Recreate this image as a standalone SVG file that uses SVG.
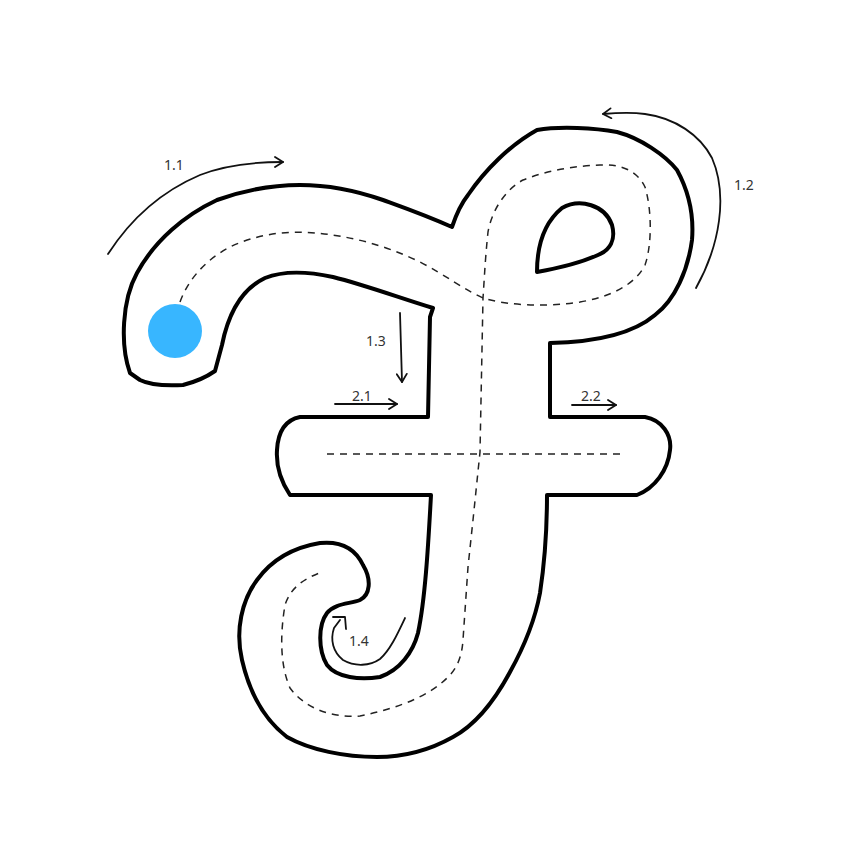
<svg xmlns="http://www.w3.org/2000/svg" width="864" height="864" viewBox="0 0 864 864">
<defs>
<style>
.outline{fill:#fff;stroke:#000;stroke-width:4;stroke-linejoin:round;stroke-linecap:round}
.dash{fill:none;stroke:#222;stroke-width:1.5;stroke-dasharray:7 6}
.arr{fill:none;stroke:#111;stroke-width:1.8;stroke-linecap:round;stroke-linejoin:round}
.lbl{font-family:"Noto Sans","Liberation Sans",sans-serif;font-size:14px;fill:#333}
</style>
<marker id="ah" viewBox="0 0 12 12" refX="10" refY="6" markerWidth="12" markerHeight="12" markerUnits="userSpaceOnUse" orient="auto">
<path d="M2,1 L10,6 L2,11" fill="none" stroke="#111" stroke-width="1.8" stroke-linecap="round" stroke-linejoin="round"/>
</marker>
</defs>
<rect width="864" height="864" fill="#fff"/>
<g id="letter">
<path class="outline" d="M130,373 C120,345 122,300 137,273 C155,240 185,215 217,200 C245,190 275,185 300,185 C330,185 360,192 383,200 C405,208 425,215 452,227 C456,215 460,205 468,195 C485,170 510,145 537,130 C560,126 595,128 617,132 C640,138 665,155 677,170 C688,190 694,215 692,240 C688,270 675,300 655,315 C635,332 600,342 550,343 L550,417 L645,417 C662,420 672,435 670,450 C668,470 655,488 637,495 L547,495 C547,520 545,560 540,593 C535,620 525,645 510,672 C495,700 475,725 453,737 C430,750 405,757 377,757 C345,757 310,750 287,737 C265,720 250,695 242,660 C235,630 242,600 257,580 C270,562 290,548 320,543 C340,541 355,548 363,565 C372,580 370,595 360,600 C350,604 335,603 327,613 C318,625 318,650 327,665 C337,678 360,680 380,677 C400,670 413,652 418,633 C425,600 428,550 431,495 L290,495 C280,480 276,465 277,450 C278,432 285,420 300,417 L428,417 L430,317 L433,308 C400,298 365,285 333,277 C310,272 285,270 265,278 C240,290 228,315 222,345 L215,371 C205,378 195,382 183,385 C165,386 150,385 140,380 Z"/>
<path class="outline" d="M537,272 C537,245 545,222 562,208 C580,198 605,205 612,225 C616,240 610,250 598,255 C580,263 560,268 537,272 Z"/>
</g>
<g id="guides">
<path class="dash" d="M180,302 C188,280 205,260 230,247 C255,235 285,230 315,233 C350,236 385,245 420,262 C445,275 465,290 483,298 C510,306 545,307 580,302 C610,297 635,285 645,265 C652,245 652,210 645,187 C637,170 620,164 600,165 C575,166 548,170 523,180 C505,190 492,210 488,232 C485,260 484,285 483,298 L480,452 L473,520 L468,567 L463,640 C462,655 458,668 447,678 C430,695 400,708 360,716 C330,718 305,708 290,688 C280,665 280,635 285,605 C290,590 300,580 322,572"/>
<path class="dash" d="M327,454 L620,454"/>
</g>
<circle id="start" cx="175" cy="331" r="27" fill="#38b6ff"/>
<g id="connectors">
<path class="arr" marker-end="url(#ah)" d="M108,254 C130,220 160,192 200,175 C225,165 255,162 283,162"/>
<path class="arr" marker-end="url(#ah)" d="M696,288 C720,245 728,195 712,158 C700,135 675,118 645,114 C630,112 615,113 603,114"/>
<path class="arr" marker-end="url(#ah)" d="M400,313 L402,382"/>
<path class="arr" marker-end="url(#ah)" d="M335,404 L397,404"/>
<path class="arr" marker-end="url(#ah)" d="M572,405 L616,405"/>
<path class="arr" d="M405,618 C397,635 390,650 380,659 C370,666 355,667 343,660 C333,652 330,640 334,628 L340,620"/>
<path class="arr" d="M333,617 L345,617 L346,629"/>
</g>
<g id="labels">
<text class="lbl" x="164" y="170">1.1</text>
<text class="lbl" x="734" y="190">1.2</text>
<text class="lbl" x="366" y="346">1.3</text>
<text class="lbl" x="352" y="401">2.1</text>
<text class="lbl" x="581" y="401">2.2</text>
<text class="lbl" x="349" y="646">1.4</text>
</g>
</svg>
